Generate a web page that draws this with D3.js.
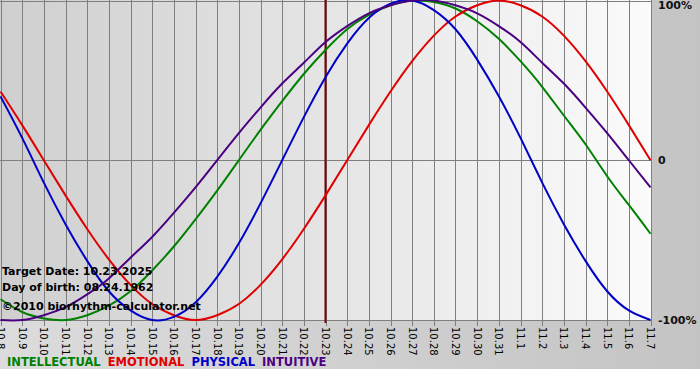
<!DOCTYPE html>
<html>
<head>
<meta charset="utf-8">
<script src="https://cdn.jsdelivr.net/npm/d3@7"></script>
<style>
  body { margin: 0; background: #fff; }
  svg { display: block; font-family: "DejaVu Sans", Verdana, sans-serif; }
</style>
</head>
<body>
<svg id="chart" width="700" height="380"></svg>
<script>
// day labels, 10.8 -> 11.7
let days = ["10.8","10.9","10.10","10.11","10.12","10.13","10.14","10.15","10.16","10.17",
  "10.18","10.19","10.20","10.21","10.22","10.23","10.24","10.25","10.26","10.27","10.28",
  "10.29","10.30","10.31","11.1","11.2","11.3","11.4","11.5","11.6","11.7"];

// values, one per day (-1 .. 1)
let physical = [0.40,0.14,-0.14,-0.40,-0.63,-0.82,-0.94,-1.00,-0.98,-0.89,-0.73,-0.52,-0.27,0,
  0.27,0.52,0.73,0.89,0.98,1.00,0.94,0.82,0.63,0.40,0.14,-0.14,-0.40,-0.63,-0.82,-0.94,-1.00];
let emotional = [0.43,0.22,0,-0.22,-0.43,-0.62,-0.78,-0.90,-0.97,-1.00,-0.97,-0.90,-0.78,-0.62,
  -0.43,-0.22,0,0.22,0.43,0.62,0.78,0.90,0.97,1.00,0.97,0.90,0.78,0.62,0.43,0.22,0];
let intellectual = [-0.87,-0.95,-0.99,-1.00,-0.97,-0.91,-0.82,-0.69,-0.54,-0.37,-0.19,0,0.19,0.37,
  0.54,0.69,0.82,0.91,0.97,1.00,0.99,0.95,0.87,0.76,0.62,0.46,0.28,0.10,-0.10,-0.28,-0.46];
let intuitive = [-1.00,-1.00,-0.97,-0.92,-0.84,-0.74,-0.61,-0.48,-0.33,-0.17,0,0.17,0.33,0.48,
  0.61,0.74,0.84,0.92,0.97,1.00,1.00,0.97,0.92,0.84,0.74,0.61,0.48,0.33,0.17,0,-0.17];

let targetDay = "10.23";
let yTicks = [1, 0, -1];
let yTickText = ["100%", "0", "-100%"];

let series = [
  {name: "INTELLECTUAL", values: intellectual, color: "#008000"},
  {name: "EMOTIONAL", values: emotional, color: "#e00000"},
  {name: "PHYSICAL", values: physical, color: "#0000c8"},
  {name: "INTUITIVE", values: intuitive, color: "#4b0082"}
];

let svg = d3.select("#chart");
let plotWidth = 651;
let plotHeight = 320;

let defs = svg.append("defs");
let bg = defs.append("linearGradient").attr("id", "bgGrad");
bg.append("stop").attr("offset", "0%").attr("stop-color", "#dcdcdc");
bg.append("stop").attr("offset", "100%").attr("stop-color", "#c4c4c4");
let pg = defs.append("linearGradient").attr("id", "plotGrad");
pg.append("stop").attr("offset", "0%").attr("stop-color", "#cfcfcf");
pg.append("stop").attr("offset", "100%").attr("stop-color", "#fbfbfb");

// outer background + white strip at the very bottom
svg.append("rect").attr("width", 700).attr("height", 369).attr("fill", "url(#bgGrad)");

let xScale = d3.scaleLinear().domain([0, days.length - 1]).range([0.5, plotWidth - 0.5]);
let yScale = d3.scaleLinear().domain([-1, 1]).range([plotHeight, 0.5]);

let plot = svg.append("g").attr("id", "plot");

plot.append("rect")
  .attr("x", 0).attr("y", 0)
  .attr("width", plotWidth).attr("height", plotHeight)
  .attr("fill", "url(#plotGrad)");

// vertical grid, one per day
plot.selectAll("line.vgrid")
  .data(days)
  .enter().append("line")
  .attr("class", "vgrid")
  .attr("x1", (d, i) => Math.round(xScale(i)) + 0.5)
  .attr("x2", (d, i) => Math.round(xScale(i)) + 0.5)
  .attr("y1", 0)
  .attr("y2", plotHeight + 6)
  .attr("stroke", "#7f7f7f")
  .attr("stroke-width", 1);

// horizontal lines at 100%, 0, -100%
plot.selectAll("line.hgrid")
  .data(yTicks)
  .enter().append("line")
  .attr("class", "hgrid")
  .attr("x1", 0)
  .attr("x2", plotWidth)
  .attr("y1", d => Math.round(yScale(d)) + 0.5)
  .attr("y2", d => Math.round(yScale(d)) + 0.5)
  .attr("stroke", "#7f7f7f")
  .attr("stroke-width", 1);

// target date marker
let ti = days.indexOf(targetDay);
plot.append("line")
  .attr("x1", xScale(ti)).attr("x2", xScale(ti))
  .attr("y1", 0).attr("y2", plotHeight + 3)
  .attr("stroke", "#7a0000")
  .attr("stroke-width", 2);

let line = d3.line()
  .x((d, i) => xScale(i))
  .y(d => yScale(d))
  .curve(d3.curveNatural);

plot.selectAll("path.curve")
  .data(series)
  .enter().append("path")
  .attr("class", "curve")
  .attr("d", d => line(d.values))
  .attr("fill", "none")
  .attr("stroke", d => d.color)
  .attr("stroke-width", 2);

// day labels, rotated
svg.selectAll("text.day")
  .data(days)
  .enter().append("text")
  .attr("class", "day")
  .attr("transform", (d, i) => "translate(" + xScale(i) + "," + (plotHeight + 7) + ") rotate(90)")
  .attr("dy", "0.35em")
  .attr("font-size", 10)
  .attr("fill", "#000")
  .text(d => d);

// right hand labels
svg.selectAll("text.ylab")
  .data(yTicks)
  .enter().append("text")
  .attr("class", "ylab")
  .attr("x", 658)
  .attr("y", d => yScale(d))
  .attr("dy", (d, i) => i == 0 ? "0.75em" : "0.35em")
  .attr("font-size", 11)
  .attr("font-weight", "bold")
  .attr("fill", "#111")
  .text((d, i) => yTickText[i]);

// info text
let info = ["Target Date: 10.23.2025", "Day of birth: 08.24.1962"];
svg.selectAll("text.info")
  .data(info)
  .enter().append("text")
  .attr("class", "info")
  .attr("x", 2)
  .attr("y", (d, i) => 275 + i * 16)
  .attr("font-size", 11)
  .attr("font-weight", "bold")
  .attr("fill", "#000")
  .text(d => d);
svg.append("text")
  .attr("x", 2).attr("y", 310)
  .attr("font-size", 11)
  .attr("font-weight", "bold")
  .attr("fill", "#000")
  .text("\u00a92010 biorhythm-calculator.net");

// legend
let lx = 7;
let legend = svg.append("g").attr("id", "legend");
series.forEach(function(s) {
  let t = legend.append("text")
    .attr("x", lx).attr("y", 366)
    .attr("font-size", 11.5)
    .attr("font-weight", "bold")
    .attr("fill", s.color)
    .text(s.name);
  lx += t.node().getComputedTextLength() + 7;
});
</script>
</body>
</html>
